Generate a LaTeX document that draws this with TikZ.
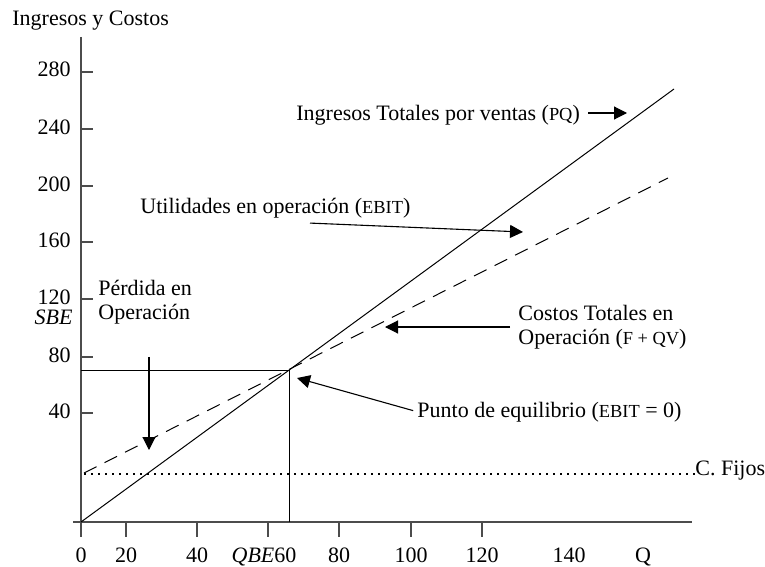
\documentclass[tikz,border=0pt]{standalone}
\usepackage{fontspec}
\setmainfont{Liberation Serif}
\usetikzlibrary{arrows.meta,positioning,calc}
\newcommand\txtsize{\fontsize{11}{12}\selectfont}
\newcommand\acr[1]{{\fontsize{9.2}{12}\selectfont #1}}

\begin{document}
\begin{tikzpicture}[x=0.5pt, y=-0.5pt, >={Triangle[length=6.5pt,width=6.5pt]}, font=\txtsize]
\tikzstyle{axis}=[draw=black!70, line width=0.6pt]
\tikzstyle{curve}=[line width=0.5pt]
\tikzstyle{lbl}=[inner sep=0pt, align=left, font=\txtsize]
\tikzstyle{ptr}=[->, line width=0.55pt]
\useasboundingbox (0,0) rectangle (765,567);

% ejes
\coordinate (O) at (81,522);
\draw[axis] (81,37) -- (81,537);
\draw[axis] (73,522) -- (692,522);
\node[lbl, anchor=base west] (ejey) at (12,26) {Ingresos y Costos};

\foreach \v/\y in {280/72,240/129,200/186,160/242,120/299,80/357,40/413} {
  \draw[axis] (81,\y) -- (93,\y);
  \node[lbl, anchor=base east] (y\v) at (71,\y+5) {\v};
}
\node[lbl, anchor=base east, font=\txtsize\itshape] (sbe) at (73,324) {SBE};

\foreach \x in {126,197,268,339,411,482}
  \draw[axis] (\x,522) -- (\x,537);
\foreach \x/\v in {81/0,126/20,197/40,339/80,411/100,482/120,569/140,643/Q}
  \node[lbl, anchor=base] (x\v) at (\x,562) {\v};
\node[lbl, anchor=base] (qbe) at (264,562) {\textit{QBE}60};

% rectas
\coordinate (BE) at (289,370);
\draw[curve] (O) -- (674,89);
\draw[curve, dash pattern=on 7pt off 4.5pt] (84,473) -- (668,178);
\node[lbl, anchor=base west] (fijos) at (695,475) {C. Fijos};
\coordinate (cf) at (84,474);
\draw[curve, line width=0.8pt, dash pattern=on 0.9pt off 2.6pt] (cf) -- (cf -| fijos.west);

% punto de equilibrio
\draw[curve] (BE -| O) -- (BE) -- (BE |- O);

% etiquetas y flechas
\node[lbl, anchor=base west] (pq) at (296,120) {Ingresos Totales por ventas (\acr{PQ})};
\coordinate (pqtip) at (627,113);
\draw[ptr, shorten <=4pt] (pq.east |- pqtip) -- (pqtip);

\node[lbl, anchor=base west] (ebit) at (140,213) {Utilidades en operación (\acr{EBIT})};
\coordinate (ebittip) at (523,232);
\draw[ptr] ($(ebit.south west)+(170,5)$) -- (ebittip);

\node[lbl, anchor=north west] (costos) at (518,305) {Costos Totales en\\Operación (\acr{F + QV})};
\coordinate (costip) at (385,327);
\draw[ptr, shorten <=4pt] (costos.west |- costip) -- (costip);

\node[lbl, anchor=north west] (perdida) at (98,280) {Pérdida en\\Operación};
\coordinate (losstip) at (149,450);
\draw[ptr, shorten <=16pt] (perdida.south -| losstip) -- (losstip);

\node[lbl, anchor=base west] (punto) at (417,417) {Punto de equilibrio (\acr{EBIT} = 0)};
\coordinate (bntip) at (297,378);
\draw[ptr, shorten <=2pt] (punto.west) -- (bntip);
\end{tikzpicture}
\end{document}
